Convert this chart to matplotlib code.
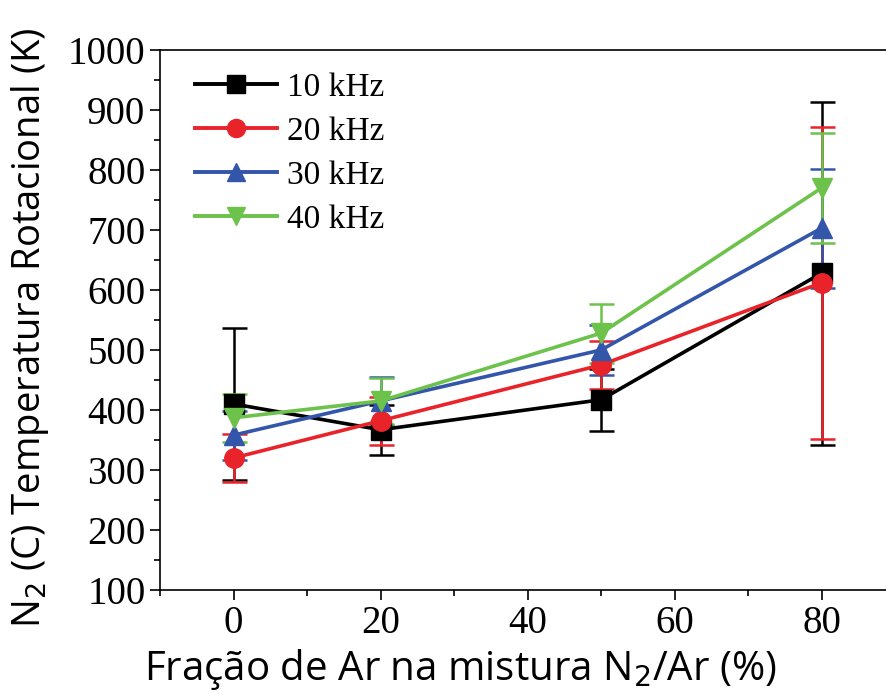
import numpy as np
import matplotlib
matplotlib.use("Agg")
from matplotlib import pyplot as plt
from matplotlib.ticker import MultipleLocator
from matplotlib.lines import Line2D

# argon fraction in the N2/Ar mixture (%)
ar_frac = [0, 20, 50, 80]

t_10k = [410, 367, 417, 628]
e_10k = [127, 42, 52, 286]
t_20k = [320, 382, 475, 612]
e_20k = [40, 40, 40, 260]
t_30k = [358, 415, 500, 703]
e_30k = [41, 40, 42, 99]
t_40k = [387, 415, 528, 770]
e_40k = [40, 38, 49, 92]

labels = ["10 kHz", "20 kHz", "30 kHz", "40 kHz"]
colors = ["black", "#e8242a", "#3355aa", "#6cc24a"]
markers = ["s", "o", "^", "v"]

fig = plt.figure(figsize=(8.86, 6.99), dpi=100)
ax = fig.add_axes([0.1806, 0.156, 0.8296, 0.7725])

series = [(t_10k, e_10k), (t_20k, e_20k), (t_30k, e_30k), (t_40k, e_40k)]
handles = []
for (t, e), lab, c, m in zip(series, labels, colors, markers):
    ax.errorbar(ar_frac, t, yerr=e, color=c, marker=m, ms=14, lw=2.6,
                elinewidth=1.8, capsize=9, capthick=1.8)
    handles.append(Line2D([], [], color=c, marker=m, ms=13, lw=2.8, label=lab))

ax.set_xlim(-10, 90)
ax.set_ylim(100, 1000)
ax.xaxis.set_major_locator(MultipleLocator(20))
ax.xaxis.set_minor_locator(MultipleLocator(10))
ax.yaxis.set_major_locator(MultipleLocator(100))
ax.yaxis.set_minor_locator(MultipleLocator(50))
ax.tick_params(which="both", direction="out", top=False, right=False, width=1.2)
ax.tick_params(which="major", length=7, labelsize=28, labelfontfamily="Liberation Serif")
ax.tick_params(which="minor", length=4)
for s in ax.spines.values():
    s.set_linewidth(1.2)

ax.set_xlabel("Fração de Ar na mistura N$_2$/Ar (%)", fontsize=29,
              family="Open Sans")
ax.set_ylabel("N$_2$ (C) Temperatura Rotacional (K)", fontsize=27.5,
              family="Open Sans")
ax.xaxis.set_label_coords(0.408, -0.105)
ax.yaxis.set_label_coords(-0.148, 0.485)

ax.legend(handles=handles, loc="upper left", frameon=False, handlelength=2.45,
          handletextpad=0.3, prop={"family": "Liberation Serif", "size": 24},
          borderaxespad=0, borderpad=0, labelspacing=0.4,
          bbox_to_anchor=(0.048, 0.958))

fig.savefig("out.png", dpi=100)
